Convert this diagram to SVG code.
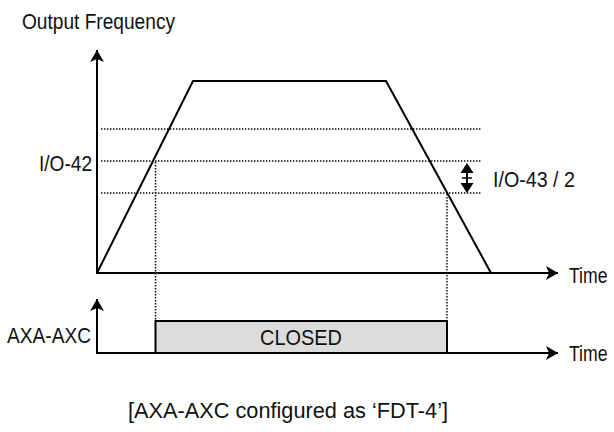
<svg xmlns="http://www.w3.org/2000/svg" width="614" height="432" viewBox="0 0 614 432">
<style>
text{font-family:"Liberation Sans",Arial,sans-serif;font-size:22px;fill:#111}
.ax{stroke:#000;stroke-width:2;fill:none}
.dot{stroke:#000;stroke-width:1.4;stroke-dasharray:1.4 1.6;fill:none}
.curve{stroke:#000;stroke-width:2;fill:none;stroke-linejoin:miter}
</style>
<defs>
<marker id="ah" viewBox="0 0 12 14" refX="12" refY="7" markerWidth="12" markerHeight="14" markerUnits="userSpaceOnUse" orient="auto">
<path d="M0,0 L12,7 L0,14 L3,7 Z" fill="#000"/>
</marker>
</defs>
<rect width="614" height="432" fill="#fff"/>
<g id="connectors">
<line class="ax" x1="97" y1="274" x2="97" y2="50" marker-end="url(#ah)"/>
<line class="ax" x1="96" y1="273" x2="558" y2="273" marker-end="url(#ah)"/>
<line class="ax" x1="97" y1="354" x2="97" y2="299" marker-end="url(#ah)"/>
<line class="ax" x1="96" y1="353" x2="558" y2="353" marker-end="url(#ah)"/>
<line class="dot" x1="101" y1="129" x2="482" y2="129"/>
<line class="dot" x1="101" y1="161" x2="482" y2="161"/>
<line class="dot" x1="101" y1="193" x2="482" y2="193"/>
<line class="dot" x1="155.5" y1="162" x2="155.5" y2="321"/>
<line class="dot" x1="447" y1="194" x2="447" y2="321"/>
<g id="span-arrow">
<line x1="467" y1="170" x2="467" y2="186" stroke="#000" stroke-width="2"/>
<line x1="462" y1="178" x2="472" y2="178" stroke="#000" stroke-width="1.5"/>
<path d="M467,163 L473.5,173 L460.5,173 Z" fill="#000"/>
<path d="M467,193 L473.5,183 L460.5,183 Z" fill="#000"/>
</g>
</g>
<g id="frequency-curve">
<polyline class="curve" points="97,273 193,81 386,81 491,273"/>
</g>
<g id="closed-box">
<rect x="155.5" y="321" width="291.5" height="32" fill="#dcdcdc" stroke="#000" stroke-width="2"/>
<text x="301" y="345" text-anchor="middle" textLength="82" lengthAdjust="spacingAndGlyphs">CLOSED</text>
</g>
<g id="label-output-frequency">
<text x="22" y="29" textLength="153" lengthAdjust="spacingAndGlyphs">Output Frequency</text>
</g>
<g id="label-io42">
<text x="39" y="171" textLength="53" lengthAdjust="spacingAndGlyphs">I/O-42</text>
</g>
<g id="label-io43">
<text x="493" y="187" textLength="82" lengthAdjust="spacingAndGlyphs">I/O-43 / 2</text>
</g>
<g id="label-time-1">
<text transform="translate(569,283) scale(0.8,1)">Time</text>
</g>
<g id="label-time-2">
<text transform="translate(569,361) scale(0.8,1)">Time</text>
</g>
<g id="label-axa-axc">
<text x="7" y="343" textLength="84" lengthAdjust="spacingAndGlyphs">AXA-AXC</text>
</g>
<g id="caption">
<text x="128" y="418" font-size="23" textLength="320" lengthAdjust="spacingAndGlyphs">[AXA-AXC configured as ‘FDT-4’]</text>
</g>
</svg>
